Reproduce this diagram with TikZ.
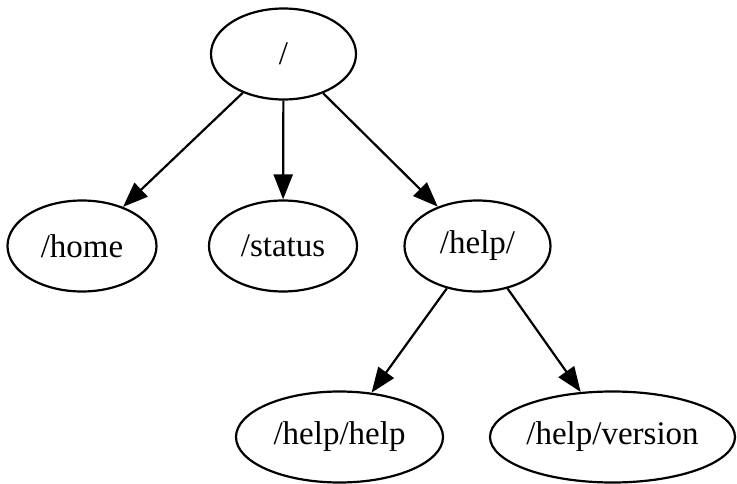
\documentclass[tikz,border=0pt]{standalone}
\usepackage{fontspec}
\setmainfont{Liberation Serif}
\usetikzlibrary{shapes.geometric,arrows.meta}
\begin{document}
\begin{tikzpicture}[x=1pt,y=-1pt,
  route/.style={draw, ellipse, line width=2.2pt, inner sep=0pt,
    minimum height=91pt, font=\fontsize{33}{38}\selectfont},
  link/.style={line width=2.2pt, -{Triangle[length=25pt,width=19pt]}}]
  \useasboundingbox (0,0) rectangle (737,484);
  % tree of routes
  \node[route, minimum width=145pt] (root)    at (283.5,54)  {/};
  \node[route, minimum width=149pt] (home)    at (82,246)    {/home};
  \node[route, minimum width=148pt] (status)  at (283,246)   {/status};
  \node[route, minimum width=146pt] (help)    at (477.5,246) {/help/};
  \node[route, minimum width=207pt] (hhelp)   at (339.5,437) {/help/help};
  \node[route, minimum width=245pt] (hver)    at (612.5,437) {/help/version};
  % parent-to-child links
  \draw[link] (root) -- (home);
  \draw[link] (root) -- (status);
  \draw[link] (root) -- (help);
  \draw[link] (help) -- (hhelp);
  \draw[link] (help) -- (hver);
\end{tikzpicture}
\end{document}
